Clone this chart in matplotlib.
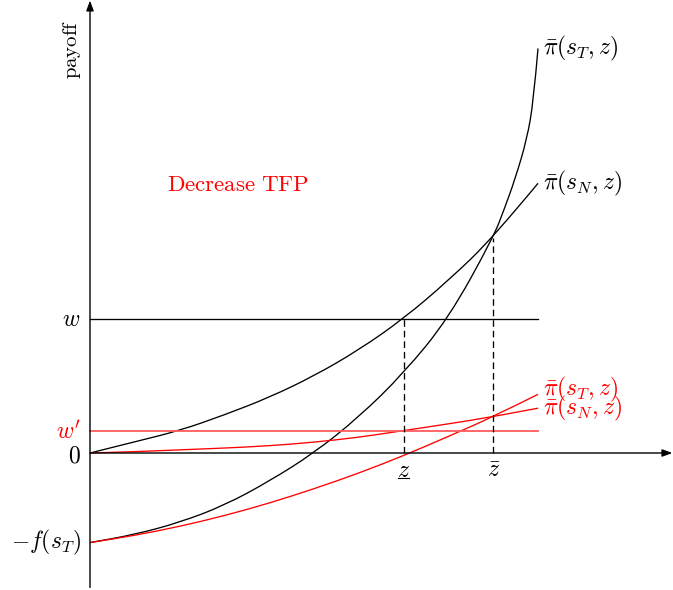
# Recreating the payoff diagram (decrease in TFP)

# Importing packages
import matplotlib
matplotlib.use("Agg")
import matplotlib.pyplot as plt
from matplotlib.path import Path
from matplotlib.patches import PathPatch

# Values
z_points = [0, 1, 2, 3, 4, 5, 6, 7, 8, 9, 10]
pi_N = [0, 0.25, 0.50, 0.85, 1.24, 1.72, 2.30, 3.0, 3.85, 4.81, 6.02]
z_points_T = [0, 1, 2, 3, 4, 5, 6, 7, 8, 9, 9.25, 9.5, 9.75, 9.9, 10]
pi_T = [-2, -1.82, -1.55, -1.17, -0.63, 0.0, 0.8, 1.78, 3.0, 4.81, 5.45, 6.15, 7.0, 7.85, 9.03]
pi_T_low = [-2, -1.84, -1.64, -1.40, -1.12, -0.80, -0.45, -0.06, 0.37, 0.81, 1.31]
pi_N_low = [0, 0.03, 0.07, 0.11, 0.16, 0.24, 0.35, 0.5, 0.65, 0.81, 1.0]

w = 3.0
w_prime = 0.5
f_sT = 2.0
z_low = 7.0
z_high = 9.0
z_max = 10.0
z_axis_end = 13.0
y_axis_end = 10.1
y_axis_start = -3.0

plt.rcParams['mathtext.fontset'] = 'cm'


## Smooth curve through the read points (quadratic pieces between midpoints)
def smooth_curve(ax, xs, ys, color):
    """
    Draws a rounded path through the points, like a TikZ 'smooth' plot.
    """
    pts = list(zip(xs, ys))
    verts = [pts[0]]
    codes = [Path.MOVETO]
    mid = ((pts[0][0] + pts[1][0]) / 2, (pts[0][1] + pts[1][1]) / 2)
    verts.append(mid)
    codes.append(Path.LINETO)
    for i in range(1, len(pts) - 1):
        nxt = pts[i + 1] if i + 1 < len(pts) - 1 else pts[-1]
        if i + 1 < len(pts) - 1:
            end = ((pts[i][0] + pts[i + 1][0]) / 2, (pts[i][1] + pts[i + 1][1]) / 2)
        else:
            end = nxt
        verts += [pts[i], end]
        codes += [Path.CURVE3, Path.CURVE3]
    patch = PathPatch(Path(verts, codes), facecolor='none', edgecolor=color, lw=0.95)
    ax.add_patch(patch)


def draw_axes(ax):
    """
    Draws the two arrows that act as axes.
    """
    arrow = dict(arrowstyle='-|>,head_length=0.6,head_width=0.22', color='black', lw=1.0,
                 shrinkA=0, shrinkB=0)
    ax.annotate('', xy=(0, y_axis_end), xytext=(0, y_axis_start), arrowprops=arrow)
    ax.annotate('', xy=(z_axis_end, 0), xytext=(0, 0), arrowprops=arrow)


def draw_curves(ax):
    """
    Draws the payoff curves, wage lines and dashed cut-offs.
    """
    ax.plot([0, z_max], [w, w], color='black', lw=0.95)
    ax.plot([0, z_max], [w_prime, w_prime], color='#ff5c5c', lw=1.3)

    smooth_curve(ax, z_points, pi_N, 'black')
    smooth_curve(ax, z_points_T, pi_T, 'black')
    smooth_curve(ax, z_points, pi_N_low, 'red')
    smooth_curve(ax, z_points, pi_T_low, 'red')

    ax.plot([z_low, z_low], [0, w], color='black', lw=0.95, ls=(0, (5, 3)))
    ax.plot([z_high, z_high], [0, pi_N[9]], color='black', lw=0.95, ls=(0, (5, 3)))


def draw_labels(ax):
    """
    Puts all text labels on the figure.
    """
    fs = 17
    ax.text(-0.4, 9.0, r'$\mathrm{payoff}$', rotation=90, fontsize=15, ha='center', va='center')
    ax.text(3.3, 6.0, r'$\mathrm{Decrease\ TFP}$', color='red', fontsize=16.5, ha='center', va='center')

    ax.text(10.12, pi_T[-1], r'$\bar{\pi}(s_T,z)$', fontsize=fs, ha='left', va='center')
    ax.text(10.12, pi_N[-1], r'$\bar{\pi}(s_N,z)$', fontsize=fs, ha='left', va='center')
    ax.text(10.12, 1.41, r'$\bar{\pi}(s_T,z)$', fontsize=fs, color='red', ha='left', va='center')
    ax.text(10.12, 1.0, r'$\bar{\pi}(s_N,z)$', fontsize=fs, color='red', ha='left', va='center')

    ax.text(-0.22, w, r'$w$', fontsize=fs, ha='right', va='center')
    ax.text(-0.2, w_prime - 0.03, r"$w'$", fontsize=fs, color='red', ha='right', va='center')
    ax.text(-0.2, -0.05, r'$0$', fontsize=fs, ha='right', va='center')
    ax.text(-0.2, -f_sT, r'$-f(s_T)$', fontsize=fs, ha='right', va='center')

    # underlined z: mathtext has no \underline, so the bar is drawn by hand
    ax.text(z_low, -0.12, r'$z$', fontsize=fs, ha='center', va='top')
    ax.plot([z_low - 0.13, z_low + 0.13], [-0.56, -0.56], color='black', lw=0.8)
    ax.text(z_high, -0.12, r'$\bar{z}$', fontsize=fs, ha='center', va='top')
    ax.text(z_axis_end + 0.05, -0.12, r'$z$', fontsize=fs, ha='left', va='top')


def main():
    fig = plt.figure(figsize=(6.73, 5.90), dpi=100)
    ax = fig.add_axes([0, 0, 1, 1])
    ax.set_xlim(-90 / 44.8, (673 - 90) / 44.8)
    ax.set_ylim(-(590 - 453) / 44.8, 453 / 44.8)
    ax.axis('off')

    draw_axes(ax)
    draw_curves(ax)
    draw_labels(ax)

    fig.savefig('out.png', dpi=100)
    plt.close(fig)


if __name__ == "__main__":
    main()
